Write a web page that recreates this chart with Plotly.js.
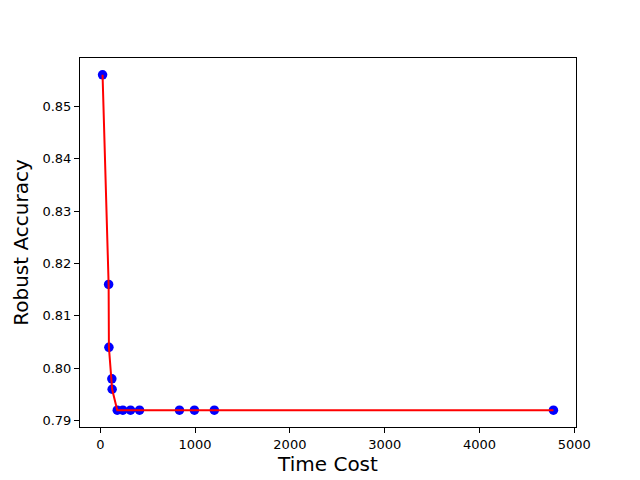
<!DOCTYPE html>
<html>
<head>
<script src="https://cdn.plot.ly/plotly-3.0.1.min.js"></script>
<style>body{margin:0;} #chart{width:640px;height:480px;}</style>
</head>
<body>
<div id="chart"></div>
<script>
var timeCost = [24, 88, 91, 122, 125, 179, 238, 319, 414, 835, 993, 1203, 4780];
var robustAcc = [0.856, 0.816, 0.804, 0.798, 0.796, 0.792, 0.792, 0.792, 0.792, 0.792, 0.792, 0.792, 0.792];
var xTicks = [0, 1000, 2000, 3000, 4000, 5000];
var yTicks = [0.79, 0.80, 0.81, 0.82, 0.83, 0.84, 0.85];

var dots = {
    type: 'scatter',
    mode: 'markers',
    x: timeCost,
    y: robustAcc,
    marker: {color: 'blue', size: 9.5},
    showlegend: false
};

// red line drawn on top of the dots
var line = {
    type: 'scatter',
    mode: 'lines',
    x: timeCost,
    y: robustAcc,
    line: {color: 'red', width: 2},
    showlegend: false
};

var axisStyle = {
    showgrid: false,
    zeroline: false,
    showline: true,
    mirror: true,
    linecolor: 'black',
    linewidth: 1,
    ticks: 'outside',
    ticklen: 5,
    tickcolor: 'black',
    tickfont: {family: 'DejaVu Sans', size: 13, color: 'black'}
};

var layout = {
    width: 640,
    height: 480,
    margin: {l: 80, r: 64, t: 58, b: 53},
    paper_bgcolor: 'white',
    plot_bgcolor: 'white',
    xaxis: Object.assign({}, axisStyle, {
        range: [-214, 5018],
        tickvals: xTicks,
        ticktext: xTicks.map(String),
        title: {text: 'Time Cost', font: {family: 'DejaVu Sans', size: 20, color: 'black'}, standoff: 6}
    }),
    yaxis: Object.assign({}, axisStyle, {
        range: [0.7888, 0.8592],
        tickvals: yTicks,
        ticktext: yTicks.map(v => v.toFixed(2)),
        title: {text: 'Robust Accuracy', font: {family: 'DejaVu Sans', size: 20, color: 'black'}, standoff: 8}
    })
};

Plotly.newPlot('chart', [dots, line], layout, {displayModeBar: false});
</script>
</body>
</html>
